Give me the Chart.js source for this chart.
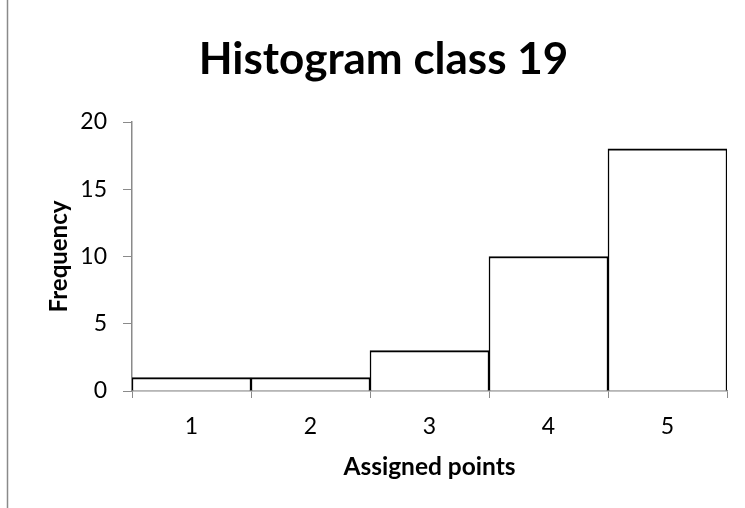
<!DOCTYPE html>
<html>
<head>
<meta charset="utf-8">
<script src="https://cdn.jsdelivr.net/npm/chart.js@4/dist/chart.umd.min.js"></script>
<style>
  html, body { margin: 0; padding: 0; background: #ffffff; }
  #wrap { position: relative; width: 745px; height: 508px; }
</style>
</head>
<body>
<div id="wrap"><canvas id="chart" width="745" height="508"></canvas></div>
<script>
// Histogram of assigned points, class 19
const categories = ['1', '2', '3', '4', '5'];
const frequencies = [1, 1, 3, 10, 18];
const yTicks = [0, 5, 10, 15, 20];

const FONT = 'Lato, "Open Sans", sans-serif';
const AXIS_GREY = '#8a8a8a';

// thin frame line along the left side of the figure
const leftFrame = {
  id: 'leftFrame',
  beforeDraw(chart) {
    const ctx = chart.ctx;
    ctx.save();
    ctx.strokeStyle = AXIS_GREY;
    ctx.lineWidth = 1.5;
    ctx.beginPath();
    ctx.moveTo(7.5, 0);
    ctx.lineTo(7.5, chart.height);
    ctx.stroke();
    ctx.restore();
  }
};

new Chart(document.getElementById('chart'), {
  type: 'bar',
  data: {
    labels: categories,
    datasets: [{
      label: 'Frequency',
      data: frequencies,
      backgroundColor: '#ffffff',
      borderColor: '#000000',
      borderWidth: { top: 2, left: 1.5, right: 1.5, bottom: 0 },
      barPercentage: 1,
      categoryPercentage: 1
    }]
  },
  options: {
    responsive: false,
    animation: false,
    layout: { padding: { left: 40, right: 18, top: 0, bottom: 0 } },
    plugins: {
      legend: { display: false },
      tooltip: { enabled: false },
      title: {
        display: true,
        text: 'Histogram class 19',
        color: '#000000',
        font: { family: FONT, size: 44, weight: 'bold', lineHeight: 1.2 },
        padding: { top: 33.6, bottom: 35.6 }
      }
    },
    scales: {
      x: {
        offset: true,
        grid: { display: true, offset: true, drawOnChartArea: false, drawTicks: true, tickLength: 7, color: AXIS_GREY, lineWidth: 1 },
        border: { display: true, color: AXIS_GREY, width: 1.5 },
        ticks: { color: '#000000', font: { family: FONT, size: 23 }, padding: 15, maxRotation: 0 },
        title: {
          display: true,
          text: 'Assigned points',
          color: '#000000',
          font: { family: FONT, size: 24.5, weight: 'bold', lineHeight: 1.2 },
          padding: { top: 0, bottom: 26.3 }
        },
        afterFit(scale) { scale.height = 117; }
      },
      y: {
        min: 0,
        max: 20,
        afterBuildTicks(scale) { scale.ticks = yTicks.map(v => ({ value: v })); },
        grid: { display: true, drawOnChartArea: false, drawTicks: true, tickLength: 9, color: AXIS_GREY, lineWidth: 1 },
        border: { display: true, color: AXIS_GREY, width: 1.5 },
        ticks: { color: '#000000', font: { family: FONT, size: 23 }, padding: 16 },
        title: {
          display: true,
          text: 'Frequency',
          color: '#000000',
          font: { family: FONT, size: 24, weight: 'bold', lineHeight: 1.2 },
          padding: { top: 4.6, bottom: 0 }
        },
        afterFit(scale) { scale.width = 92; }
      }
    }
  },
  plugins: [leftFrame]
});
</script>
</body>
</html>
